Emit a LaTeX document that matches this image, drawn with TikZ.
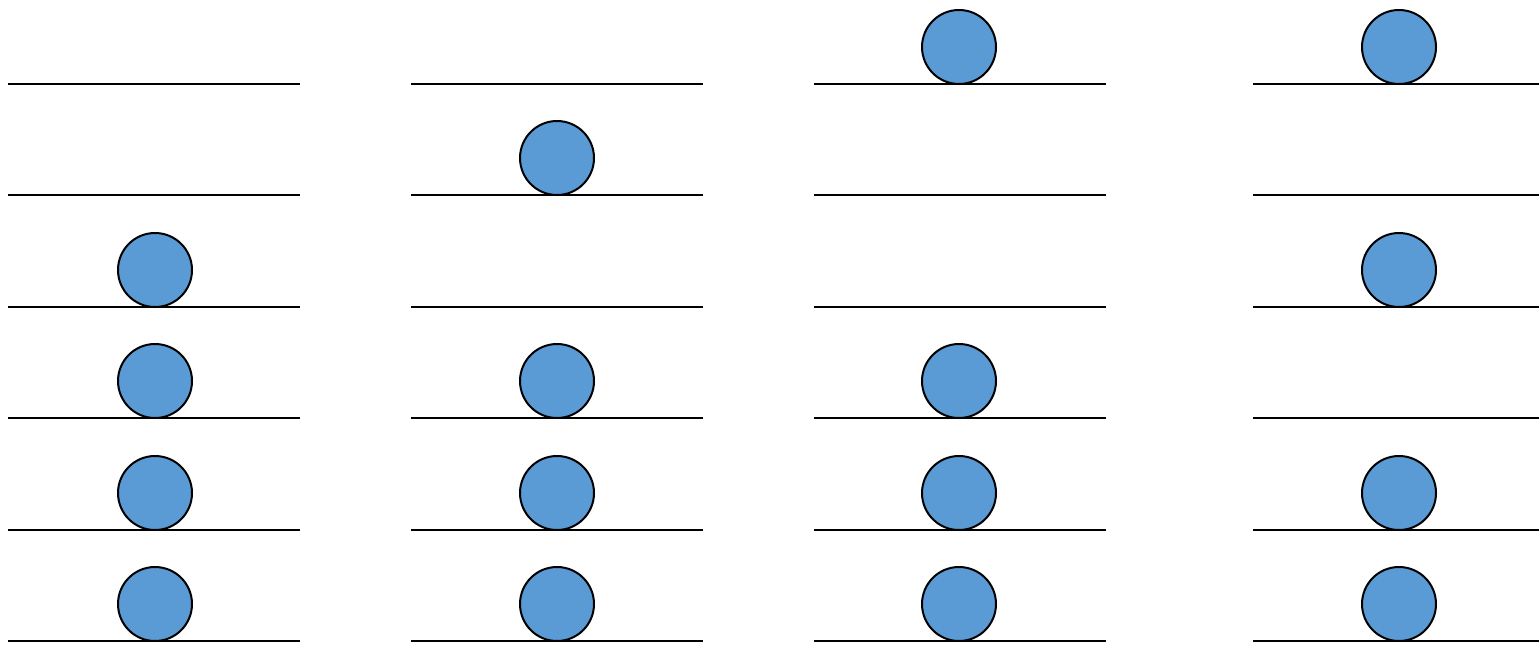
\documentclass[tikz,border=0pt]{standalone}
\definecolor{ballblue}{HTML}{5B9BD5}
\begin{document}
\begin{tikzpicture}[x=1pt,y=-1pt,
  ground/.style={line width=2.3pt,black},
  ball/.style={circle,draw=black,line width=2pt,fill=ballblue,minimum size=74pt,inner sep=0pt}]
\useasboundingbox (0,0) rectangle (1539,645);
% lines
\foreach \y in {84,195,307,418,530,641}{
  \draw[ground] (8,\y) -- (300,\y);
  \draw[ground] (411,\y) -- (703,\y);
  \draw[ground] (814,\y) -- (1106,\y);
  \draw[ground] (1253,\y) -- (1539,\y);
}
% balls: column centers 155, 557, 959, 1399
\node[ball] (b13) at (959,47) {};
\node[ball] (b14) at (1399,47) {};
\node[ball] (b22) at (557,158) {};
\node[ball] (b31) at (155,270) {};
\node[ball] (b34) at (1399,270) {};
\node[ball] (b41) at (155,381) {};
\node[ball] (b42) at (557,381) {};
\node[ball] (b43) at (959,381) {};
\node[ball] (b51) at (155,493) {};
\node[ball] (b52) at (557,493) {};
\node[ball] (b53) at (959,493) {};
\node[ball] (b54) at (1399,493) {};
\node[ball] (b61) at (155,604) {};
\node[ball] (b62) at (557,604) {};
\node[ball] (b63) at (959,604) {};
\node[ball] (b64) at (1399,604) {};
\end{tikzpicture}
\end{document}
